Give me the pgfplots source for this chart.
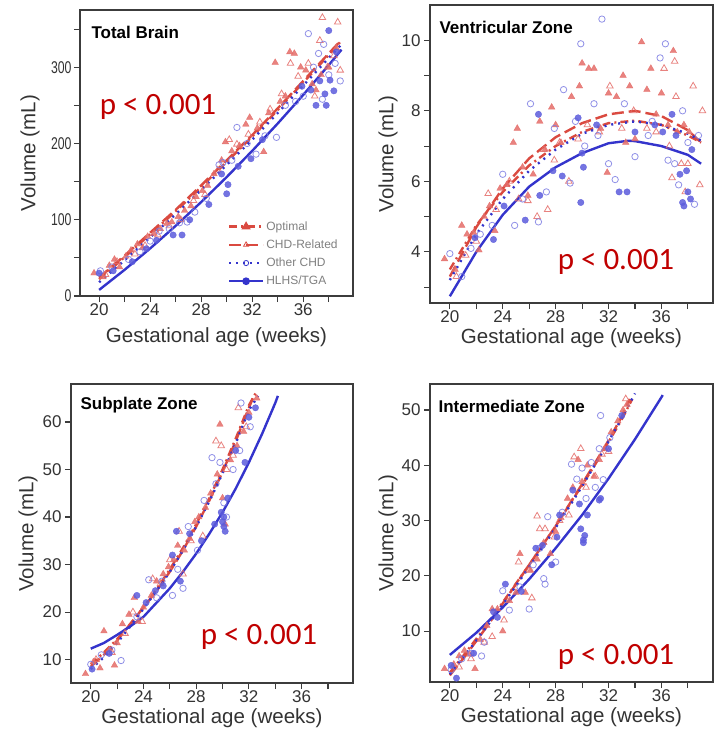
\documentclass[border=0pt]{standalone}
\usepackage{fontspec}
\setmainfont{Liberation Sans}
\newfontfamily\pfont{Carlito}
\usepackage{pgfplots}
\pgfplotsset{compat=1.18}
\definecolor{frame}{HTML}{3C3C3C}
\definecolor{txt}{HTML}{333333}
\definecolor{redpt}{HTML}{E46C68}
\definecolor{redln}{HTML}{DA4A40}
\definecolor{bluept}{HTML}{7C7CE2}
\definecolor{bluefl}{HTML}{5C5CDC}
\definecolor{blueln}{HTML}{3434CC}
\definecolor{pred}{HTML}{C00000}
\definecolor{leg}{HTML}{808080}

\pgfplotsset{
  panel/.style={
    scale only axis, anchor=north west,
    xmin=18.5, xmax=39.9,
    xtick={20,24,28,32,36}, minor xtick={22,26,30,34,38},
    xtick pos=bottom, ytick pos=left,
    tick align=outside, major tick length=6pt, minor tick length=6pt,
    axis line style={draw=frame, line width=1.4pt},
    tick style={draw=frame, line width=1.1pt},
    ticklabel style={font=\fontsize{17}{17}\selectfont, text=txt},
    xticklabel style={inner sep=1pt},
    /pgf/number format/assume math mode=true,
    xlabel={Gestational age (weeks)}, ylabel={Volume (mL)},
    every axis x label/.style={anchor=center, font=\fontsize{20.5}{23}\selectfont, text=txt},
    every axis y label/.style={anchor=center, rotate=90, font=\fontsize{20.5}{23}\selectfont, text=txt},
    clip=false,
  },
  opt/.style={only marks, forget plot, mark=triangle*, mark size=3.8pt,
    mark options={draw=redpt, fill=redpt, opacity=0.85}},
  chd/.style={only marks, forget plot, mark=triangle, mark size=3.8pt,
    mark options={draw=redpt, line width=0.8pt, opacity=0.85}},
  oth/.style={only marks, forget plot, mark=o, mark size=3.2pt,
    mark options={draw=bluept, line width=0.8pt, opacity=0.85}},
  hl/.style={only marks, forget plot, mark=*, mark size=3.2pt,
    mark options={draw=bluefl, fill=bluefl, opacity=0.85}},
  lopt/.style={redln, line width=2.4pt, dash pattern=on 8pt off 4pt on 2pt off 4pt,
    mark=triangle*, mark phase=1000, mark size=3pt, mark options={solid, fill=redln}},
  lchd/.style={redln, line width=2.4pt, dash pattern=on 12pt off 5pt,
    mark=triangle, mark phase=1000, mark size=3pt, mark options={solid, line width=0.8pt}},
  loth/.style={blueln, line width=2.4pt, dash pattern=on 2pt off 5pt,
    mark=o, mark phase=1000, mark size=2.6pt, mark options={solid, line width=0.8pt}},
  lhl/.style={blueln, line width=2.4pt,
    mark=*, mark phase=1000, mark size=2.6pt, mark options={solid}},
}

\begin{document}
\begin{tikzpicture}
\useasboundingbox (0pt,0pt) rectangle (717pt,-735pt);

% Total Brain
\begin{axis}[panel, at={(80pt,-10pt)}, width=273pt, height=286pt,
  ymin=0, ymax=375, ytick={0,100,200,300}, minor ytick={50,150,250,350},
  yticklabel style={xscale=0.72},
  xlabel style={at={([yshift=-41pt]axis description cs:0.5,0)}},
  ylabel style={at={([xshift=-50pt]axis description cs:0,0.5)}},
  legend style={at={(0.53,0.275)}, anchor=north west, draw=none, fill=none,
    font=\fontsize{12}{14}\selectfont, text=leg, row sep=4pt},
  legend cell align=left,
  legend image code/.code={\draw[mark repeat=2,mark phase=2,#1] plot coordinates {(0pt,0pt) (17pt,0pt) (34pt,0pt)};},
]
\addplot[opt] coordinates {(19.6,30) (20.3,25) (20.8,40) (21.2,48) (21.6,38) (22.1,52) (22.5,60) (23.0,68) (23.4,63) (23.8,78) (24.3,82) (24.8,88) (25.3,95) (25.7,97) (26.2,104) (26.7,112) (27.2,118) (27.6,130) (28.1,138) (28.5,145) (29.0,160) (29.6,178) (29.9,202) (30.4,190) (31.0,197) (31.5,225) (31.8,234) (32.4,220) (32.9,189) (33.3,240) (33.8,306) (34.2,255) (34.6,262) (34.95,320) (35.3,318) (35.8,300) (36.2,296) (36.7,278) (37.0,270) (37.4,290) (38.0,300) (38.6,325)};
\addplot[chd] coordinates {(20.5,28) (21.4,45) (22.8,55) (23.6,66) (24.6,80) (25.5,92) (26.4,100) (27.4,125) (28.3,133) (29.3,165) (30.2,205) (30.8,199) (31.7,212) (32.6,228) (33.4,245) (34.3,265) (35.0,305) (35.6,288) (36.4,305) (36.9,262) (37.3,335) (37.5,365) (37.9,300) (38.4,315) (38.7,359) (38.9,296)};
\addplot[oth] coordinates {(20.1,33) (21.0,38) (22.3,48) (23.2,58) (24.0,72) (24.7,85) (25.5,88) (26.3,96) (26.9,97) (27.5,110) (28.4,128) (29.4,172) (29.7,175) (30.4,178) (30.8,221) (31.6,200) (32.3,186) (33.0,210) (33.9,208) (34.6,250) (35.4,255) (36.0,262) (36.4,344) (36.8,300) (37.2,318) (37.6,330) (38.0,290) (38.5,305) (38.9,282) (37.5,258)};
\addplot[hl] coordinates {(20.0,30) (21.1,33) (22.6,45) (23.7,62) (24.5,73) (25.8,80) (26.5,80) (27.1,100) (28.6,120) (29.6,160) (30.0,134) (30.1,146) (30.9,170) (31.9,180) (32.8,205) (35.9,275) (36.6,270) (37.0,250) (37.3,282) (37.7,265) (38.0,348) (38.1,283) (38.4,269) (37.8,250) (38.6,320)};
\addplot[lopt] coordinates {(20,22) (22,51) (24,81) (26,111) (28,143) (30,176) (32,209) (34,244) (36,280) (38,316) (39,335)};
\addplot[lchd] coordinates {(20,24) (22,53) (24,83) (26,113) (28,145) (30,178) (32,211) (34,246) (36,282) (38,318) (39,336)};
\addplot[loth] coordinates {(20,18) (22,47) (24,77) (26,107) (28,139) (30,172) (32,205) (34,240) (36,276) (38,312) (39,330)};
\addplot[lhl] coordinates {(20,8) (22,34.4) (24,62.4) (26,92) (28,123.2) (30,156) (32,190.3) (34,226.2) (36,263.7) (38,302.8) (39,323)};
\legend{Optimal, CHD-Related, Other CHD, HLHS/TGA}
\end{axis}

% Ventricular Zone
\begin{axis}[panel, at={(430pt,-5pt)}, width=283pt, height=298pt,
  ymin=2.55, ymax=11, ytick={4,6,8,10}, minor ytick={3,5,7,9},
  xlabel style={at={([yshift=-35pt]axis description cs:0.5,0)}},
  ylabel style={at={([xshift=-42pt]axis description cs:0,0.5)}},
]
\addplot[opt] coordinates {(19.6,3.8) (20.4,3.5) (20.9,4.75) (21.3,4.5) (21.8,4.55) (22.2,4.05) (22.6,5.0) (23.0,5.3) (23.4,4.6) (23.8,5.8) (24.3,5.9) (24.8,7.1) (25.1,7.5) (25.5,6.4) (25.9,5.6) (26.3,6.2) (26.8,7.7) (27.2,6.9) (27.7,8.1) (28.0,7.6) (28.4,7.1) (29.2,8.4) (29.8,8.7) (30.0,9.35) (30.5,9.2) (30.9,9.2) (31.4,7.5) (31.9,6.25) (32.0,8.5) (32.6,8.4) (33.1,9.0) (33.6,8.7) (34.0,7.2) (34.5,9.95) (34.9,8.6) (35.2,9.2) (35.6,7.9) (36.0,8.5) (36.5,7.6) (36.9,9.7) (37.2,7.4) (37.7,7.6) (38.1,7.4) (33.3,7.1)};
\addplot[chd] coordinates {(20.5,3.3) (21.2,3.9) (22.0,4.3) (22.9,5.65) (23.5,5.2) (24.5,6.0) (25.2,5.5) (25.9,5.45) (26.6,5.0) (27.1,6.9) (27.4,5.2) (27.9,6.6) (28.3,7.1) (29.0,6.0) (29.7,7.2) (30.4,7.6) (31.3,7.4) (32.1,8.7) (33.0,7.5) (33.9,8.0) (34.9,7.5) (35.6,7.4) (36.2,9.2) (36.8,6.1) (37.1,8.4) (37.5,6.5) (37.0,9.4) (38.0,6.5) (38.4,8.7) (38.9,5.9) (39.1,8.0) (37.8,5.7) (36.6,7.0)};
\addplot[oth] coordinates {(20.0,3.95) (20.9,3.3) (21.6,4.1) (22.3,4.5) (23.2,4.75) (24.0,6.2) (24.9,4.75) (25.5,5.5) (26.1,8.2) (26.7,4.85) (27.3,5.7) (27.9,7.5) (28.6,8.6) (29.1,5.95) (29.5,7.7) (29.9,9.9) (30.2,7.0) (30.9,8.2) (31.2,7.3) (31.5,10.6) (32.0,6.5) (32.5,6.05) (33.2,8.2) (34.0,6.7) (35.0,7.3) (35.9,9.5) (36.3,9.9) (36.5,6.6) (37.0,6.5) (37.3,5.9) (37.6,8.0) (38.0,7.1) (38.5,5.35) (38.8,7.3) (35.3,7.7)};
\addplot[hl] coordinates {(21.9,4.4) (23.3,4.35) (24.1,5.3) (25.7,4.9) (26.7,7.9) (26.8,5.6) (27.8,6.3) (28.5,6.15) (29.7,7.8) (29.9,5.4) (30.1,6.4) (30.0,6.8) (31.1,7.6) (32.8,5.7) (33.4,5.7) (34.0,7.4) (35.5,7.6) (36.1,7.4) (36.8,7.9) (37.1,7.3) (37.6,5.4) (37.7,5.3) (37.9,6.3) (38.2,5.5) (38.0,5.7) (38.3,6.9) (37.4,6.2)};
\addplot[lopt] coordinates {(20,3.5) (22,4.75) (24,5.7) (26,6.45) (28,7.0) (30,7.4) (32,7.65) (34,7.72) (36,7.6) (38,7.3) (39,7.1)};
\addplot[lchd] coordinates {(20,3.3) (22,4.7) (24,5.8) (26,6.65) (28,7.25) (30,7.65) (32,7.9) (34,8.0) (36,7.85) (38,7.45) (39,7.1)};
\addplot[loth] coordinates {(20,3.2) (22,4.5) (24,5.5) (26,6.3) (28,6.9) (30,7.35) (32,7.6) (34,7.7) (36,7.6) (38,7.35) (39,7.15)};
\addplot[lhl] coordinates {(20,2.74) (22,4.0) (24,5.05) (26,5.85) (28,6.4) (30,6.8) (32,7.08) (33.5,7.15) (34,7.14) (36,7.0) (38,6.75) (39,6.5)};
\end{axis}

% Subplate Zone
\begin{axis}[panel, at={(71pt,-384pt)}, width=282pt, height=299pt,
  ymin=5.07, ymax=68, ytick={10,20,30,40,50,60},
  xlabel style={at={([yshift=-35pt]axis description cs:0.5,0)}},
  ylabel style={at={([xshift=-43pt]axis description cs:0,0.5)}},
]
\addplot[opt] coordinates {(19.6,7) (20.2,9.5) (20.7,8.2) (21.0,16) (21.4,12) (21.8,8.8) (22.0,13.5) (22.4,17.5) (22.9,19.5) (23.3,23) (23.6,18) (24.0,21) (24.6,23.5) (25.0,26.5) (25.5,28) (25.9,29.5) (26.3,31) (26.6,34) (27.1,33) (27.5,35.5) (27.9,39) (28.2,40) (28.7,42) (29.1,45) (29.6,49) (29.8,59.5) (30.0,44) (30.2,38.5) (30.6,52) (31.1,55) (31.6,58) (32.0,62) (32.6,65)};
\addplot[chd] coordinates {(20.4,10) (21.6,11.5) (22.6,15.5) (23.2,20) (23.9,18) (24.7,27) (25.3,26) (26.0,31) (26.7,37) (27.6,35) (28.5,36) (29.5,56) (29.9,55) (30.3,50) (30.8,53) (31.2,63) (31.8,59) (27.0,28)};
\addplot[oth] coordinates {(20.0,9) (20.8,11) (21.6,12) (22.3,9.8) (23.5,19) (24.4,26.8) (25.0,23) (25.4,26.5) (26.2,23.5) (26.6,29) (27.0,25) (27.4,38) (28.1,33) (28.6,43.5) (29.2,52.5) (29.5,47) (29.8,51.5) (30.1,43) (30.3,40) (30.8,50) (31.3,54) (31.4,64) (32.1,59)};
\addplot[hl] coordinates {(20.1,8) (21.4,11.3) (23.5,23.5) (24.2,22) (24.9,24.5) (25.5,25.5) (26.2,32) (26.5,37) (26.8,26.5) (27.5,36.5) (28.4,35) (29.4,38.5) (29.9,41) (30.0,39) (30.1,38) (30.2,37) (30.1,40) (30.4,44) (31.0,54) (31.7,51.5) (32.0,61) (32.5,63)};
\addplot[lopt] coordinates {(20,9) (21,11.5) (22,14.3) (23,17.5) (24,21) (25,24.8) (26,29) (27,33.5) (28,38.5) (29,44) (30,50) (31,56.5) (32,63.5) (32.5,66)};
\addplot[lchd] coordinates {(20,8.5) (21,11) (22,14) (23,17.5) (24,21) (25,24.5) (26,28.5) (27,33) (28,38) (29,43.5) (30,49.5) (31,56) (32,63) (32.3,65)};
\addplot[loth] coordinates {(20,8) (21,10.5) (22,13.5) (23,17) (24,20.7) (25,24.5) (26,28.5) (27,33) (28,38) (29,43.3) (30,49.2) (31,55.5) (32,62.5) (32.7,65.5)};
\addplot[lhl] coordinates {(20,12.3) (21,13.5) (22,15.2) (23,17) (24,19) (25,22) (26,25) (27,28.5) (28,32.3) (29,36.5) (30,41) (31,46) (32,51.5) (33,57.5) (34,64) (34.2,65.5)};
\end{axis}

% Intermediate Zone
\begin{axis}[panel, at={(430pt,-384pt)}, width=283pt, height=298pt,
  ymin=0.8, ymax=54.7, ytick={10,20,30,40,50},
  xlabel style={at={([yshift=-35pt]axis description cs:0.5,0)}},
  ylabel style={at={([xshift=-42pt]axis description cs:0,0.5)}},
]
\addplot[opt] coordinates {(19.6,3.2) (20.3,4) (20.7,5.5) (21.1,6.5) (21.5,5.8) (21.9,3.2) (22.3,8.5) (22.8,11) (23.2,14) (23.6,14) (24.0,10) (24.5,15.5) (25.0,17) (25.3,24) (25.7,17) (26.1,21) (26.6,23) (27.1,26) (27.6,24) (28.0,28) (28.4,30.5) (28.9,34) (29.3,36) (29.7,41) (30.0,37) (30.4,40) (30.9,38) (31.3,41) (31.7,43) (32.2,46) (32.7,48) (33.1,50) (33.4,51)};
\addplot[chd] coordinates {(20.7,3.5) (21.6,5) (22.6,8) (23.2,9) (24.1,12) (25.2,22.5) (26.0,21) (26.2,16) (26.6,30.8) (26.8,28.5) (27.2,28.5) (27.9,27) (28.3,30) (29.0,31) (29.4,41.5) (29.9,43) (30.3,36) (31.0,38) (31.5,42) (32.0,42.5) (33.3,52)};
\addplot[oth] coordinates {(20.1,3) (20.9,5) (21.6,6) (22.4,5.5) (22.6,8) (24.0,17.3) (24.5,13.8) (25.3,18) (26.0,14) (26.3,22) (26.8,25) (27.1,19.5) (27.2,18.5) (27.4,30.7) (28.0,22.5) (28.5,31.5) (29.2,40.2) (29.6,37.5) (30.0,39.5) (30.3,34) (30.7,40.5) (31.0,36) (31.3,43) (31.4,49) (31.6,37.4) (32.1,45)};
\addplot[hl] coordinates {(20.1,3.8) (20.5,1.5) (21.8,6) (23.3,13.5) (23.6,12.5) (24.2,18.5) (25.4,17.2) (26.5,25) (27.0,25.5) (27.7,22) (28.1,27) (28.3,31) (29.3,35.5) (29.8,33) (29.9,28.5) (30.1,26.5) (30.1,26) (30.2,27.3) (30.4,31) (31.3,33.7) (31.4,34) (32.0,43) (33.0,49)};
\addplot[lopt] coordinates {(20,2.5) (21,5.5) (22,8.6) (23,11.8) (24,15.2) (25,18.6) (26,22) (27,25.5) (28,29) (29,32.7) (30,36.4) (31,40.2) (32,44.2) (33,48.3) (33.8,52)};
\addplot[lchd] coordinates {(20,2) (21,5) (22,8.2) (23,11.5) (24,15) (25,18.5) (26,22) (27,25.5) (28,29) (29,32.8) (30,36.6) (31,40.5) (32,44.5) (33,48.8) (33.6,52)};
\addplot[loth] coordinates {(20,2.2) (21,5.2) (22,8.3) (23,11.5) (24,14.8) (25,18.2) (26,21.6) (27,25.1) (28,28.7) (29,32.4) (30,36.2) (31,40.2) (32,44.3) (33,48.5) (34,53)};
\addplot[lhl] coordinates {(20,5.7) (22,9.7) (24,14.3) (26,19.4) (28,25.0) (30,31.0) (32,37.6) (34,44.7) (36,52.3) (36.1,52.7)};
\end{axis}

% panel titles and p-values
\begin{scope}[every node/.style={anchor=west, text=black, font=\bfseries\fontsize{17}{20}\selectfont}]
\node at (88pt,-32pt) {Total Brain};
\node at (436pt,-27pt) {Ventricular Zone};
\node at (77pt,-405pt) {Subplate Zone};
\node at (435pt,-406pt) {Intermediate Zone};
\end{scope}
\begin{scope}[every node/.style={anchor=center, text=pred, font=\pfont\fontsize{31}{35}\selectfont}]
\node at (158pt,-107pt) {p < 0.001};
\node at (616pt,-262pt) {p < 0.001};
\node at (259pt,-637pt) {p < 0.001};
\node at (616pt,-657pt) {p < 0.001};
\end{scope}
\end{tikzpicture}
\end{document}
